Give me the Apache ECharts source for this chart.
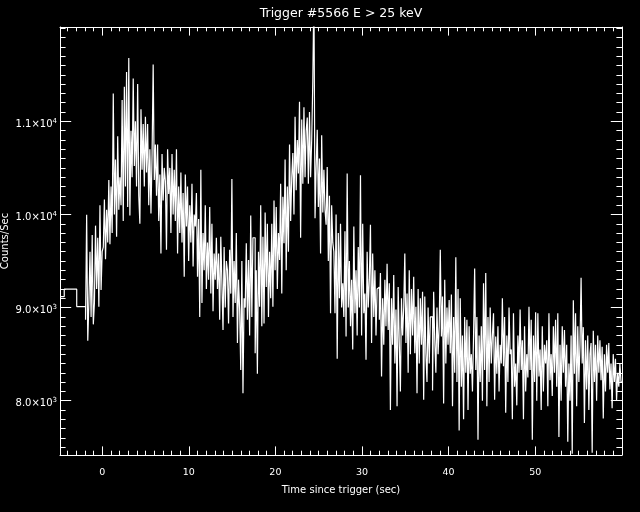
<!DOCTYPE html>
<html><head><meta charset="utf-8">
<script src="https://cdn.jsdelivr.net/npm/echarts@6/dist/echarts.min.js"></script>
<style>html,body{margin:0;padding:0;background:#000}#c{width:640px;height:512px}</style>
</head><body><div id="c"></div>
<script>
const titleText = 'Trigger #5566 E > 25 keV';
const xAxisTitle = 'Time since trigger (sec)';
const yAxisTitle = 'Counts/Sec';
const xTickValues = [0, 10, 20, 30, 40, 50];
const yTickValues = [8000, 9000, 10000, 11000];
const X_MIN = -4.87, X_MAX = 60.02;
const Y_MIN = 7417, Y_MAX = 12013;

// pre-trigger coarse bins (start times, counts/sec)
const preBinStarts = [-4.87, -4.38, -2.94];
const preBinValues = [9118, 9198, 9011];

// post -1.92 s fine bins (0.128 s each), counts/sec
const fineStart = -1.92;
const fineBinWidth = 0.128;
const fineValues = [
  8870, 9996, 8645, 9050, 9600, 8900, 9780, 8820,
  9050, 9880, 9200, 9750, 9010, 10100, 9190, 9600,
  9650, 10160, 9520, 10050, 9700, 10370, 9680, 10300,
  9800, 11300, 10000, 10590, 9760, 10840, 10050, 10400,
  10100, 11230, 9930, 11370, 10300, 11530, 10080, 11680,
  9990, 10900, 10400, 11460, 10520, 11000, 10300, 11400,
  10200, 9900, 11130, 10480, 10970, 10300, 11050, 10450,
  10970, 10100, 10700, 10010, 10640, 11610, 10370, 10750,
  10200, 10750, 9930, 10430, 9580, 10650, 10150, 10500,
  10360, 9620, 10700, 10220, 10500, 9800, 10650, 10000,
  10480, 9930, 10700, 9580, 10300, 9800, 10450, 9700,
  10230, 9330, 10430, 9870, 10300, 9500, 10100, 9700,
  10330, 9440, 10000, 9870, 10230, 9330, 9950, 8900,
  10480, 9050, 9800, 9400, 10100, 9200, 9700, 9300,
  10080, 9150, 9900, 8960, 9580, 9300, 9750, 9200,
  9580, 8870, 9760, 9260, 8760, 9650, 9000, 9500,
  9400, 8830, 9620, 9150, 10380, 8900, 9500, 9050,
  9800, 8620, 9300, 8980, 8330, 9500, 8080, 9100,
  9000, 9690, 8870, 9510, 8700, 9990, 8900, 9750,
  9750, 8510, 9400, 8290, 9600, 9010, 10100, 8800,
  9760, 8830, 10020, 9220, 9900, 8900, 9600, 9100,
  9900, 9010, 10150, 9400, 10080, 9200, 9800, 9510,
  10330, 9150, 10190, 9690, 10590, 9400, 10300, 9600,
  10750, 9930, 10400, 10660, 10000, 11050, 10260, 10800,
  10440, 11210, 9750, 11020, 10330, 11150, 10400, 10900,
  11040, 10330, 11100, 10400, 10800, 11435, 12400, 9960,
  10500, 10910, 10080, 10600, 9580, 10850, 10020, 10480,
  10050, 9890, 10510, 9500, 10200, 8940, 10100, 9700,
  9600, 8940, 10000, 8450, 9800, 9100, 9900, 9000,
  9260, 8900, 9820, 8690, 10440, 9000, 9500, 8800,
  9300, 8550, 9870, 8940, 9400, 8700, 9650, 9000,
  10420, 8700, 9900, 8940, 9150, 8440, 9600, 9000,
  9300, 9890, 8620, 9580, 8900, 9400, 8700, 9200,
  9220, 8870, 9370, 8260, 9100, 8600, 9300, 8800,
  9470, 8760, 9260, 7900, 9100, 8600, 9350, 8400,
  8980, 7940, 9220, 8620, 8100, 9100, 8700, 9000,
  9580, 8620, 9150, 8300, 9400, 8500, 9200, 8700,
  9330, 8510, 9010, 8080, 9200, 8400, 9100, 8600,
  9170, 8010, 9120, 8510, 8200, 9000, 8400, 8900,
  8900, 8110, 9170, 8650, 8300, 9000, 8500, 8800,
  9620, 8690, 9120, 7970, 9300, 8400, 9000, 8600,
  9080, 8510, 9140, 7940, 8900, 8300, 9540, 8200,
  9200, 7680, 9100, 8150, 8700, 7800, 8900, 8300,
  8870, 7900, 8800, 8290, 8500, 8100, 8700, 9420,
  8330, 8900, 7580, 8700, 8200, 8800, 8000, 9260,
  8330, 9370, 7940, 8900, 8200, 9000, 8400, 8700,
  8940, 8010, 8690, 8290, 8800, 8100, 8600, 8400,
  9100, 8370, 8900, 7870, 8700, 8200, 9000, 8500,
  8550, 7800, 8940, 8150, 8400, 7950, 8700, 8300,
  8980, 8330, 8650, 7800, 8800, 8100, 8500, 8250,
  9010, 8330, 8870, 7580, 8700, 8200, 8950, 8000,
  8940, 8260, 8550, 7900, 8800, 8100, 8600, 8400,
  8650, 7940, 8940, 8220, 8500, 8050, 8800, 8300,
  8870, 8150, 8940, 7610, 8600, 8000, 8800, 8300,
  8760, 8150, 8600, 7560, 8400, 8000, 8700, 7430,
  9080, 8290, 8940, 7940, 8800, 8200, 8600, 9320,
  8400, 8790, 7760, 8650, 8120, 8700, 7900, 8500,
  8620, 7440, 8750, 8200, 8600, 8000, 8700, 8300,
  8650, 8220, 8580, 7810, 8500, 8100, 8600, 8300,
  8620, 8120, 8400, 7920, 8500, 8200, 8450, 8000,
  8300, 8150, 8400, 8200
];

// histogram points: [bin start, value], plus closing point at the end of the last bin
const histData = [];
preBinStarts.forEach((t, i) => histData.push([t, preBinValues[i]]));
fineValues.forEach((v, k) => histData.push([+(fineStart + k * fineBinWidth).toFixed(3), v]));
histData.push([+(fineStart + fineValues.length * fineBinWidth).toFixed(3), fineValues[fineValues.length - 1]]);

const xMinorTicks = [];
for (let t = -4; t < 60; t++) xMinorTicks.push(t);
const yMinorTicks = [];
for (let v = 7500; v <= 12000; v += 100) yMinorTicks.push(v);

const FONT = 'DejaVu Sans';
const WHITE = '#ffffff';

function yLabel(v) {
  const e = Math.floor(Math.log10(v) + 1e-9);
  const m = (v / Math.pow(10, e)).toFixed(1);
  return '{b|' + m + '\u00d710}{s|' + e + '}';
}

function xAx(pos, ticks, len, major, labels, extra) {
  return Object.assign({
    type: 'value', position: pos, min: X_MIN, max: X_MAX,
    axisLine: { show: major, onZero: false, lineStyle: { color: WHITE, width: 1 } },
    axisTick: { show: true, inside: true, length: len, customValues: ticks, lineStyle: { color: WHITE, width: 1 } },
    axisLabel: labels ? { show: true, customValues: ticks, color: WHITE, fontFamily: FONT, fontSize: 9.5, margin: 13 } : { show: false },
    splitLine: { show: false }
  }, extra || {});
}
function yAx(pos, ticks, len, major, labels, extra) {
  return Object.assign({
    type: 'value', position: pos, min: Y_MIN, max: Y_MAX,
    axisLine: { show: major, onZero: false, lineStyle: { color: WHITE, width: 1 } },
    axisTick: { show: true, inside: true, length: len, customValues: ticks, lineStyle: { color: WHITE, width: 1 } },
    axisLabel: labels ? {
      show: true, customValues: ticks, margin: 3, color: WHITE, fontFamily: FONT,
      formatter: yLabel, padding: [4, 0, 0, 0],
      rich: {
        b: { fontSize: 10, fontFamily: FONT, color: WHITE, lineHeight: 12, verticalAlign: 'bottom' },
        s: { fontSize: 7, fontFamily: FONT, color: WHITE, lineHeight: 6, verticalAlign: 'top' }
      }
    } : { show: false },
    splitLine: { show: false }
  }, extra || {});
}

const chart = echarts.init(document.getElementById('c'), null, { renderer: 'canvas' });
chart.setOption({
  backgroundColor: '#000000',
  animation: false,
  title: {
    text: titleText, left: 341, top: 7, textAlign: 'center', padding: 0,
    textStyle: { color: WHITE, fontFamily: FONT, fontSize: 12.5, fontWeight: 'normal' }
  },
  grid: { left: 60, top: 27, right: 18, bottom: 57, containLabel: false, outerBoundsMode: 'none' },
  xAxis: [
    xAx('bottom', xTickValues, 8.6, true, true, {
      name: xAxisTitle, nameLocation: 'middle', nameGap: 30, nameMoveOverlap: false,
      nameTextStyle: { color: WHITE, fontFamily: FONT, fontSize: 10 }
    }),
    xAx('bottom', xMinorTicks, 4.3, false, false),
    xAx('top', xTickValues, 8.6, true, false),
    xAx('top', xMinorTicks, 4.3, false, false)
  ],
  yAxis: [
    yAx('left', yTickValues, 11.2, true, true, {
      name: yAxisTitle, nameLocation: 'middle', nameGap: 50, nameRotate: 90, nameMoveOverlap: false,
      nameTextStyle: { color: WHITE, fontFamily: FONT, fontSize: 10 }
    }),
    yAx('left', yMinorTicks, 5.6, false, false),
    yAx('right', yTickValues, 11.2, true, false),
    yAx('right', yMinorTicks, 5.6, false, false)
  ],
  series: [{
    type: 'line', xAxisIndex: 0, yAxisIndex: 0, data: histData,
    step: 'end', symbol: 'none', showSymbol: false, clip: true, silent: true,
    lineStyle: { color: WHITE, width: 1.2 }
  }]
});
</script></body></html>
